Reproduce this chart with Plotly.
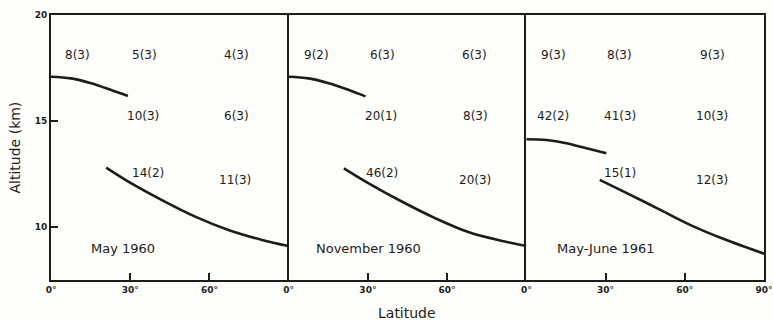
import plotly.graph_objects as go
from plotly.subplots import make_subplots

# Tropopause curves (latitude in degrees, altitude in km) for each campaign
panel_titles = ["May 1960", "November 1960", "May-June 1961"]

upper_lat = [
    [0, 7.6, 15.2, 22.8, 29.1],
    [0, 7.6, 15.2, 22.8, 29.1],
    [0, 7.6, 15.2, 22.8, 30.3],
]
upper_alt = [
    [17.09, 17.01, 16.78, 16.46, 16.18],
    [17.09, 17.01, 16.78, 16.46, 16.16],
    [14.14, 14.10, 13.95, 13.71, 13.48],
]

lower_lat = [
    [20.9, 29.3, 42.0, 54.6, 67.2, 79.9, 90.0],
    [20.9, 30.3, 43.0, 55.6, 68.3, 80.9, 90.0],
    [27.8, 36.9, 49.6, 62.2, 74.8, 90.0],
]
lower_alt = [
    [12.80, 12.14, 11.27, 10.49, 9.86, 9.39, 9.10],
    [12.77, 12.06, 11.19, 10.41, 9.75, 9.34, 9.10],
    [12.22, 11.67, 10.88, 10.09, 9.43, 8.74],
]

# Sample counts, shown as "value(n)" at the grid cells of each panel
label_lat = [
    [9.9, 35.3, 70.2, 35.0, 70.2, 36.9, 69.8],
    [10.4, 35.4, 70.4, 35.0, 70.8, 35.4, 70.4],
    [10.4, 35.3, 70.4, 10.1, 35.3, 70.4, 35.3, 70.4],
]
label_alt = [
    [18.1, 18.1, 18.1, 15.24, 15.24, 12.53, 12.22],
    [18.1, 18.1, 18.1, 15.24, 15.24, 12.53, 12.22],
    [18.1, 18.1, 18.1, 15.24, 15.24, 15.24, 12.53, 12.22],
]
label_text = [
    ["8(3)", "5(3)", "4(3)", "10(3)", "6(3)", "14(2)", "11(3)"],
    ["9(2)", "6(3)", "6(3)", "20(1)", "8(3)", "46(2)", "20(3)"],
    ["9(3)", "8(3)", "9(3)", "42(2)", "41(3)", "10(3)", "15(1)", "12(3)"],
]
title_lat = [27.4, 30.3, 30.0]
title_alt = [9.0, 9.0, 9.0]

x_tickvals = [[0, 30, 60], [0, 30, 60], [0, 30, 60, 90]]
y_tickvals = [10, 15, 20]

INK = "#1c1c1c"
FONT = "DejaVu Sans"

fig = make_subplots(rows=1, cols=3, shared_yaxes=True, horizontal_spacing=0)

for i in range(3):
    col = i + 1
    for lx, ly in ((upper_lat[i], upper_alt[i]), (lower_lat[i], lower_alt[i])):
        fig.add_trace(
            go.Scatter(
                x=lx, y=ly, mode="lines",
                line=dict(color=INK, width=2.6, shape="spline", smoothing=1.0),
                showlegend=False, hoverinfo="skip",
            ),
            row=1, col=col,
        )
    xref = "x" if i == 0 else f"x{col}"
    yref = "y" if i == 0 else f"y{col}"
    for lx, ly, t in zip(label_lat[i], label_alt[i], label_text[i]):
        fig.add_annotation(
            x=lx, y=ly, xref=xref, yref=yref, text=t, showarrow=False,
            font=dict(family=FONT, size=12, color=INK),
            xanchor="center", yanchor="middle",
        )
    fig.add_annotation(
        x=title_lat[i], y=title_alt[i], xref=xref, yref=yref,
        text=panel_titles[i], showarrow=False,
        font=dict(family=FONT, size=13, color=INK),
        xanchor="center", yanchor="middle",
    )
    fig.update_xaxes(
        range=[0, 90],
        tickvals=x_tickvals[i],
        ticktext=[f"{v}°" for v in x_tickvals[i]],
        ticks="inside", ticklen=7, tickwidth=1.5, tickcolor=INK,
        showline=True, linecolor=INK, linewidth=1.8, mirror=True,
        showgrid=False, zeroline=False, automargin=False,
        tickfont=dict(family=FONT, size=9, color=INK, weight="bold"),
        row=1, col=col,
    )
    # Only the last panel mirrors its y line, so shared borders stay single
    fig.update_yaxes(
        range=[7.5, 20],
        tickvals=y_tickvals,
        ticks="inside" if i == 0 else "",
        ticklen=7, tickwidth=1.5, tickcolor=INK,
        showticklabels=(i == 0),
        showline=True, linecolor=INK, linewidth=1.8, mirror=(i == 2),
        showgrid=False, zeroline=False, automargin=False,
        tickfont=dict(family=FONT, size=9, color=INK, weight="bold"),
        row=1, col=col,
    )

fig.add_annotation(
    x=-0.0505, y=0.5, xref="paper", yref="paper", text="Altitude (km)",
    textangle=-90, showarrow=False,
    font=dict(family=FONT, size=14, color=INK),
    xanchor="center", yanchor="middle",
)
fig.add_annotation(
    x=0.499, y=-0.1245, xref="paper", yref="paper", text="Latitude",
    showarrow=False, font=dict(family=FONT, size=14, color=INK),
    xanchor="center", yanchor="middle",
)

fig.update_layout(
    width=773, height=320,
    margin=dict(l=51, r=9, t=15, b=40),
    paper_bgcolor="#fdfdfa", plot_bgcolor="#fdfdfa",
)

fig.write_html("out.html")
